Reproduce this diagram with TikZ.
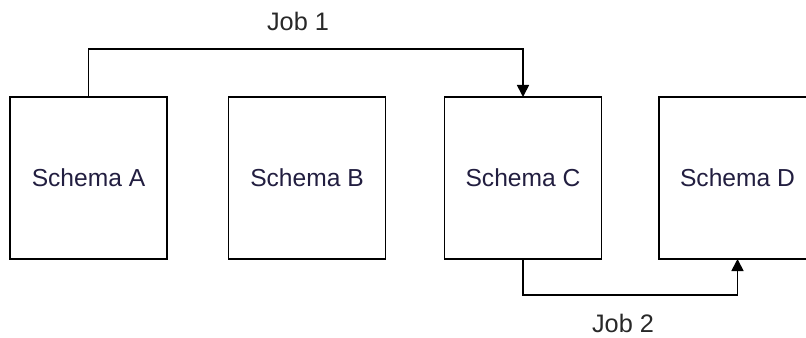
\documentclass[tikz,border=0pt]{standalone}
\usepackage[RGB]{xcolor}
\usepackage{fontspec}
\setmainfont{Liberation Sans}
\usetikzlibrary{arrows.meta}
\definecolor{schemaink}{RGB}{34,30,64}
\definecolor{jobink}{RGB}{40,40,40}
\tikzset{
  schemabox/.style={draw, line width=1.2pt, minimum width=3.925cm, minimum height=4.05cm,
    inner sep=0pt, outer sep=0pt, text=schemaink, font=\fontsize{17.5}{20}\selectfont},
  jobline/.style={line width=1.2pt, -{Triangle[width=0.3cm,length=0.3cm]}},
  joblabel/.style={text=jobink, font=\fontsize{18}{21}\selectfont}
}
\newcommand{\drawjob}{\draw[jobline]}

\begin{document}
\begin{tikzpicture}
\useasboundingbox (0,0) rectangle (20.15,8.425);
\clip (0,0) rectangle (20.15,8.425);
\foreach \n/\x in {A/2.2125,B/7.675,C/13.075,D/18.4375}{
  \node[schemabox] (\n) at (\x,3.975) {Schema \n};
}
\drawjob (A.north) -- ++(0,1.2) -| (C.north);
\drawjob (C.south) -- ++(0,-0.9) -| (D.south);
\node[joblabel] (job1) at (7.45,7.9) {Job 1};
\node[joblabel] (job2) at (15.575,0.35) {Job 2};
\end{tikzpicture}
\end{document}
